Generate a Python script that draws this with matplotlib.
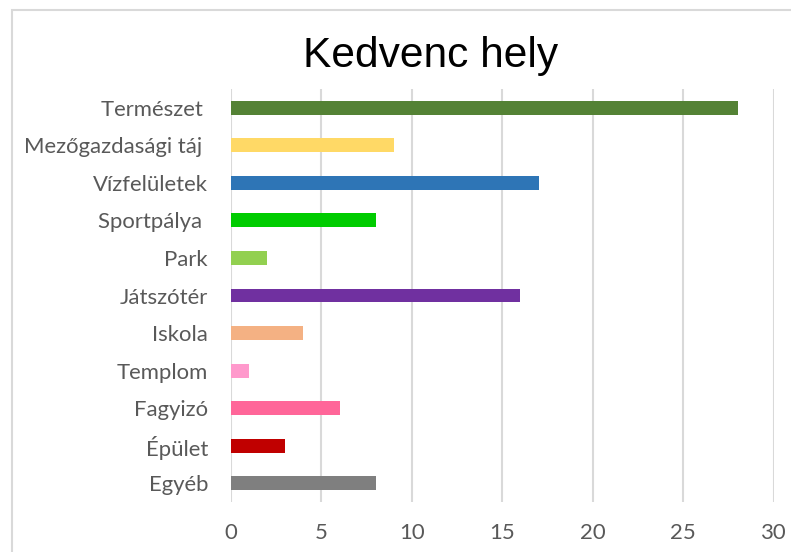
import matplotlib
matplotlib.use("Agg")
import matplotlib.pyplot as plt
from matplotlib.patches import Rectangle

# adatok (felülről lefelé)
kategoriak = ["Természet ", "Mezőgazdasági táj ", "Vízfelületek", "Sportpálya ", "Park",
              "Játszótér", "Iskola", "Templom", "Fagyizó", "Épület", "Egyéb"]
ertekek = [28, 9, 17, 8, 2, 16, 4, 1, 6, 3, 8]
szinek = ["#548235", "#FFD966", "#2E75B6", "#00CC00", "#92D050",
          "#7030A0", "#F4B183", "#FF99CC", "#FF6699", "#C00000", "#7F7F7F"]
x_tickek = [0, 5, 10, 15, 20, 25, 30]

fig = plt.figure(figsize=(7.91, 5.52), dpi=100)
ax = fig.add_axes([231 / 791, 1 - 502 / 552, (773.7 - 231) / 791, (502 - 89) / 552])

# keret a diagram körül (jobbra és lent levágva)
fig.patches.append(Rectangle((12 / 791, -0.1), 1.2, 1 - 10 / 552 + 0.1,
                             transform=fig.transFigure, fill=False,
                             edgecolor="#D9D9D9", linewidth=1.5, zorder=0))

n = len(kategoriak)
pozicio = [n - 1 - i for i in range(n)]
ax.barh(pozicio, ertekek, height=0.37, color=szinek, zorder=3)

ax.set_xlim(0, 30)
ax.set_ylim(-0.5, n - 0.5)
ax.set_xticks(x_tickek)
ax.set_yticks(pozicio)
ax.set_yticklabels(kategoriak)
ax.xaxis.grid(True, color="#D9D9D9", linewidth=1.5, zorder=0)
ax.set_axisbelow(True)
for s in ax.spines.values():
    s.set_visible(False)

ax.tick_params(axis="y", length=0, pad=16.5, labelsize=15.9, labelcolor="#595959")
ax.tick_params(axis="x", length=0, pad=15, labelsize=15.9, labelcolor="#595959")
for lab in ax.get_xticklabels() + ax.get_yticklabels():
    lab.set_family("Lato")

fig.text(431 / 791, 1 - 67 / 552, "Kedvenc hely", ha="center", va="baseline",
         fontsize=30.6, family="Liberation Sans", color="black")

fig.savefig("out.png", dpi=100)
